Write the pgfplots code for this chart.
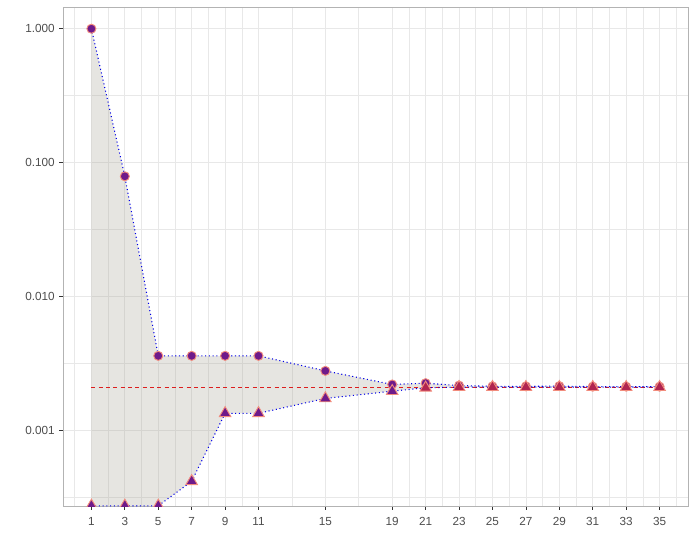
\documentclass[border=0pt]{standalone}
\usepackage{pgfplots}
\pgfplotsset{compat=1.18}
\usepackage{pgfplotstable}
\usepgfplotslibrary{fillbetween}
\usepackage{fontspec}
\setmainfont{Liberation Sans}
\definecolor{gridc}{RGB}{232,232,232}
\definecolor{borderc}{RGB}{179,179,179}
\definecolor{tickc}{RGB}{51,51,51}
\definecolor{labc}{RGB}{77,77,77}
\definecolor{ptfill}{RGB}{110,26,138}
\definecolor{ptedge}{RGB}{242,140,125}
\definecolor{crim}{RGB}{176,36,80}
\definecolor{ribbon}{RGB}{172,168,155}
\definecolor{dotc}{RGB}{0,0,230}
\definecolor{dashc}{RGB}{220,30,30}

\pgfplotstableread{
x up lo
1 1.0 0.000273
3 0.079 0.000273
5 0.0036 0.000273
7 0.0036 0.000416
9 0.0036 0.00134
11 0.0036 0.00134
15 0.00278 0.00173
19 0.0022 0.00196
21 0.00225 0.00208
23 0.00216 0.0021
25 0.00213 0.0021
27 0.00213 0.0021
29 0.00214 0.0021
31 0.00212 0.0021
33 0.00212 0.0021
35 0.00212 0.0021
}\data

\begin{document}
\begin{tikzpicture}
\path (-47.25pt,-33.75pt) rectangle (474.75pt,379.5pt);
\begin{axis}[
  at={(0pt,0pt)}, anchor=south west, scale only axis,
  width=468.75pt, height=374.25pt,
  xmin=-0.7, xmax=36.7,
  ymode=log, ymin=0.000272, ymax=1.453,
  xtick={1,3,5,7,9,11,15,19,21,23,25,27,29,31,33,35},
  xticklabels={1,3,5,7,9,11,15,19,21,23,25,27,29,31,33,35},
  minor xtick={0,2,4,6,8,10,13,17,20,22,24,26,28,30,32,34,36},
  ytick={0.001,0.01,0.1,1},
  yticklabels={0.001,0.010,0.100,1.000},
  minor ytick={0.000316228,0.00316228,0.0316228,0.316228},
  /pgf/number format/assume math mode=true,
  grid=both,
  major grid style={gridc, line width=0.6pt},
  minor grid style={gridc, line width=0.45pt},
  tick pos=left,
  tick align=outside,
  major tick length=2.75pt,
  minor tick length=0pt,
  tick style={tickc, line width=0.6pt},
  axis line style={borderc, line width=0.6pt},
  ticklabel style={font=\fontsize{8.8}{10}\selectfont, text=labc},
  xticklabel style={yshift=-2pt},
  clip=true,
  clip marker paths=true,
]
\addplot[draw=none, name path=up, forget plot] table[x=x,y=up]{\data};
\addplot[draw=none, name path=lo, forget plot] table[x=x,y=lo]{\data};
\addplot[ribbon, fill opacity=0.3, draw=none] fill between[of=up and lo];
\addplot[dashc, dash pattern=on 3pt off 2.5pt, line width=0.6pt] coordinates {(1,0.00211) (35,0.00211)};
\addplot[dotc, dotted, line width=0.8pt] table[x=x,y=up]{\data};
\addplot[dotc, dotted, line width=0.8pt] table[x=x,y=lo]{\data};
\addplot[only marks, mark=*, mark size=3.4pt, mark options={fill=ptfill, draw=ptedge, line width=0.7pt}] table[x=x,y=up]{\data};
\addplot[only marks, mark=triangle*, mark size=5pt, mark options={fill=ptfill, draw=ptedge, line width=0.7pt}, restrict x to domain=0:20] table[x=x,y=lo]{\data};
\addplot[only marks, mark=triangle*, mark size=5pt, mark options={fill=crim, draw=ptedge, line width=0.7pt}, restrict x to domain=20:36] table[x=x,y=lo]{\data};
\end{axis}
\end{tikzpicture}
\end{document}
